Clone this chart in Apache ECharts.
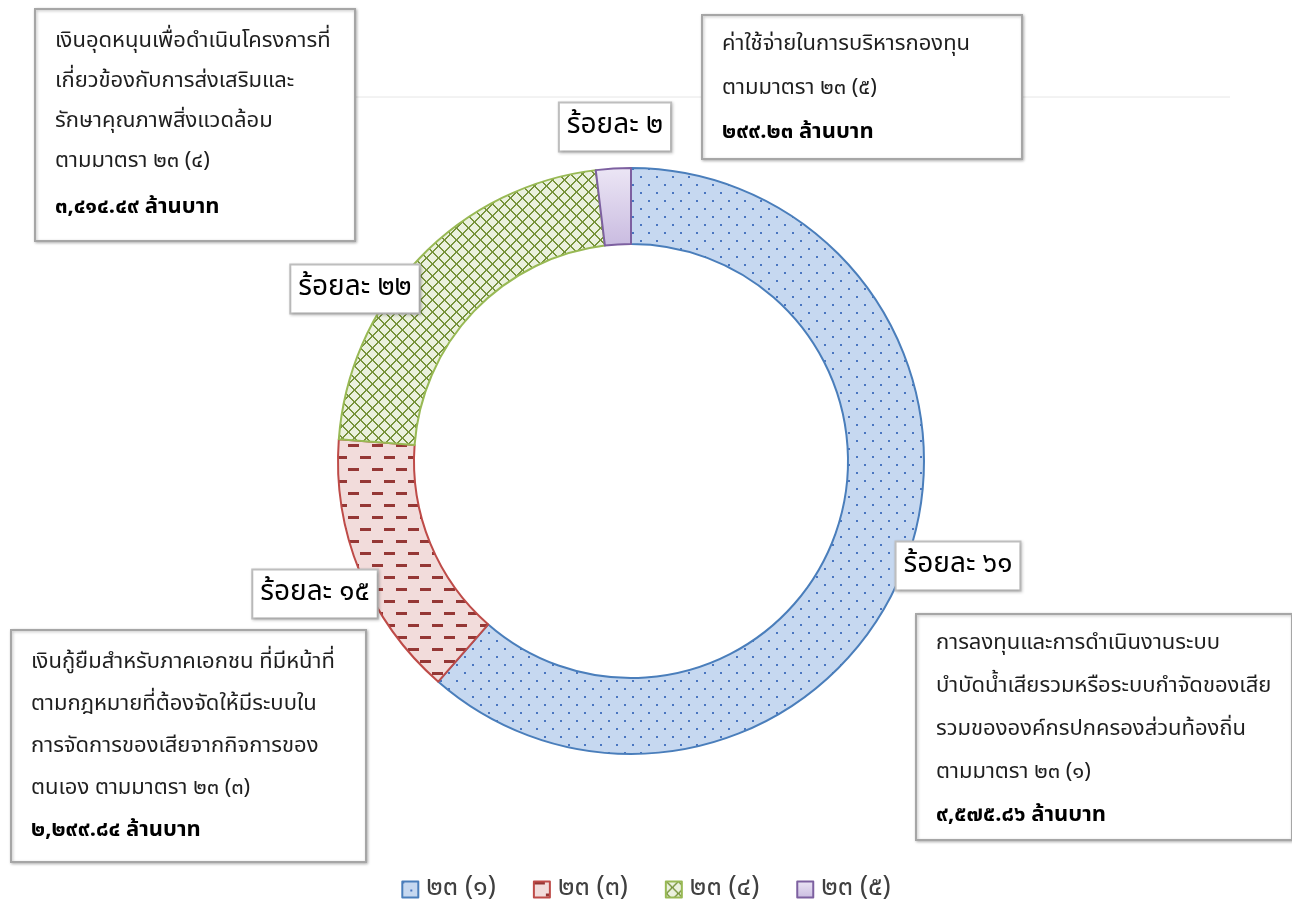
<!DOCTYPE html>
<html>
<head>
<meta charset="utf-8">
<script src="https://cdn.jsdelivr.net/npm/echarts@6/dist/echarts.min.js"></script>
<style>
html,body{margin:0;padding:0;background:#fff;}
#chart{width:1292px;height:899px;}
</style>
</head>
<body>
<div id="chart"></div>
<script>
// ---- data ----
const categories = ['๒๓ (๑)', '๒๓ (๓)', '๒๓ (๔)', '๒๓ (๕)'];
const values = [9575.86, 2299.84, 3414.49, 299.23];
const descriptions = [
  ['การลงทุนและการดำเนินงานระบบ', 'บำบัดน้ำเสียรวมหรือระบบกำจัดของเสีย', 'รวมขององค์กรปกครองส่วนท้องถิ่น', 'ตามมาตรา ๒๓ (๑)'],
  ['เงินกู้ยืมสำหรับภาคเอกชน ที่มีหน้าที่', 'ตามกฎหมายที่ต้องจัดให้มีระบบใน', 'การจัดการของเสียจากกิจการของ', 'ตนเอง ตามมาตรา ๒๓ (๓)'],
  ['เงินอุดหนุนเพื่อดำเนินโครงการที่', 'เกี่ยวข้องกับการส่งเสริมและ', 'รักษาคุณภาพสิ่งแวดล้อม', 'ตามมาตรา ๒๓ (๔)'],
  ['ค่าใช้จ่ายในการบริหารกองทุน', 'ตามมาตรา ๒๓ (๕)']
];
const unitText = 'ล้านบาท';
const percentPrefix = 'ร้อยละ';

// ---- helpers ----
const thaiDigits = '๐๑๒๓๔๕๖๗๘๙';
function toThai(s){ return String(s).replace(/[0-9]/g, d => thaiDigits[+d]); }
function fmtAmount(v){
  return toThai(v.toLocaleString('en-US',{minimumFractionDigits:2,maximumFractionDigits:2})) + ' ' + unitText;
}
const FONT = '"Noto Sans Thai","Noto Sans","DejaVu Sans",sans-serif';

function tile(w,h,draw){ const c=document.createElement('canvas'); c.width=w; c.height=h; draw(c.getContext('2d')); return c; }
const dotTile = tile(16,16,g=>{ g.fillStyle='#c6d8f0'; g.fillRect(0,0,16,16); g.fillStyle='#4a76c0'; g.fillRect(0,0,2,2); g.fillRect(8,8,2,2); });
const dashTile = tile(24,24,g=>{ g.fillStyle='#f2dcdb'; g.fillRect(0,0,24,24); g.fillStyle='#953735'; g.fillRect(0,0,11,3); g.fillRect(12,12,11,3); });
const crossTile = tile(12,12,g=>{ g.fillStyle='#ebf1de'; g.fillRect(0,0,12,12); g.fillStyle='#77933c';
  for(let i=0;i<12;i++){ g.fillRect(i,i,2,1); g.fillRect((11-i+12)%12,i,2,1); } g.fillRect(0,11,1,1); });

const fills = [
  {image: dotTile, repeat:'repeat'},
  {image: dashTile, repeat:'repeat'},
  {image: crossTile, repeat:'repeat'},
  {type:'linear', x:0, y:0, x2:0, y2:1, colorStops:[{offset:0,color:'#ece6f5'},{offset:1,color:'#c9bbe0'}]}
];
const borders = ['#4a7ebb','#be4b48','#98b954','#7d60a0'];

// label box positions (centres) for percent labels
const pctPos = [[958,566],[315,594],[355,289],[615,127]];
// description box geometry
const boxes = [
  {x:916, y:614, w:376, h:226, first:31, lh:43},
  {x:11,  y:630, w:355, h:232, first:34, lh:42},
  {x:35,  y:9,   w:320, h:232, first:34, lh:40, extra:6},
  {x:702, y:15,  w:320, h:144, first:31, lh:44}
];

const graphics = [{
  type:'line', shape:{x1:40, y1:97, x2:1230, y2:97}, style:{stroke:'#e6e6e6', lineWidth:1}, z:0, silent:true
}];
boxes.forEach((b,i)=>{
  const children = [{
    type:'rect', shape:{x:b.x, y:b.y, width:b.w, height:b.h},
    style:{fill:'#fff', stroke:'#a6a6a6', lineWidth:2, shadowBlur:3, shadowColor:'rgba(0,0,0,0.25)', shadowOffsetX:1, shadowOffsetY:1}
  }];
  const lines = descriptions[i].concat([fmtAmount(values[i])]);
  lines.forEach((t,k)=>{
    const isLast = k===lines.length-1;
    children.push({
      type:'text',
      style:{text:t, x:b.x+20, y:b.y+b.first+k*b.lh+(isLast?(b.extra||0):0), verticalAlign:'middle', align:'left',
        fill:isLast?'#000':'#1f1f1f', font:(isLast?'bold ':'')+'22px '+FONT}
    });
  });
  graphics.push({type:'group', z:10, children});
});

const chart = echarts.init(document.getElementById('chart'), null, {renderer:'canvas'});
chart.setOption({
  animation:false,
  backgroundColor:'#fff',
  legend:{
    data: categories, left:'center', top:871, itemWidth:16, itemHeight:16, itemGap:37, icon:'rect',
    textStyle:{fontFamily:FONT, fontSize:27, color:'#404040', padding:[0,0,0,3]}
  },
  graphic: graphics,
  series:[{
    type:'pie', center:[631,461], radius:[217,293], startAngle:90, clockwise:true,
    avoidLabelOverlap:false, silent:true,
    data: categories.map((c,i)=>({name:c, value:values[i], itemStyle:{color:fills[i], borderColor:borders[i], borderWidth:2}})),
    label:{show:true, position:'outside', formatter:p=>percentPrefix+' '+toThai(Math.round(p.percent)),
      fontFamily:FONT, fontSize:28, color:'#000', backgroundColor:'#fff', borderColor:'#bfbfbf', borderWidth:2,
      padding:[10,7,9,7], shadowBlur:3, shadowColor:'rgba(0,0,0,0.2)', shadowOffsetX:1, shadowOffsetY:1},
    labelLine:{show:false},
    labelLayout: p=>({x:pctPos[p.dataIndex][0], y:pctPos[p.dataIndex][1], align:'center', verticalAlign:'middle'})
  }]
});
</script>
</body>
</html>
